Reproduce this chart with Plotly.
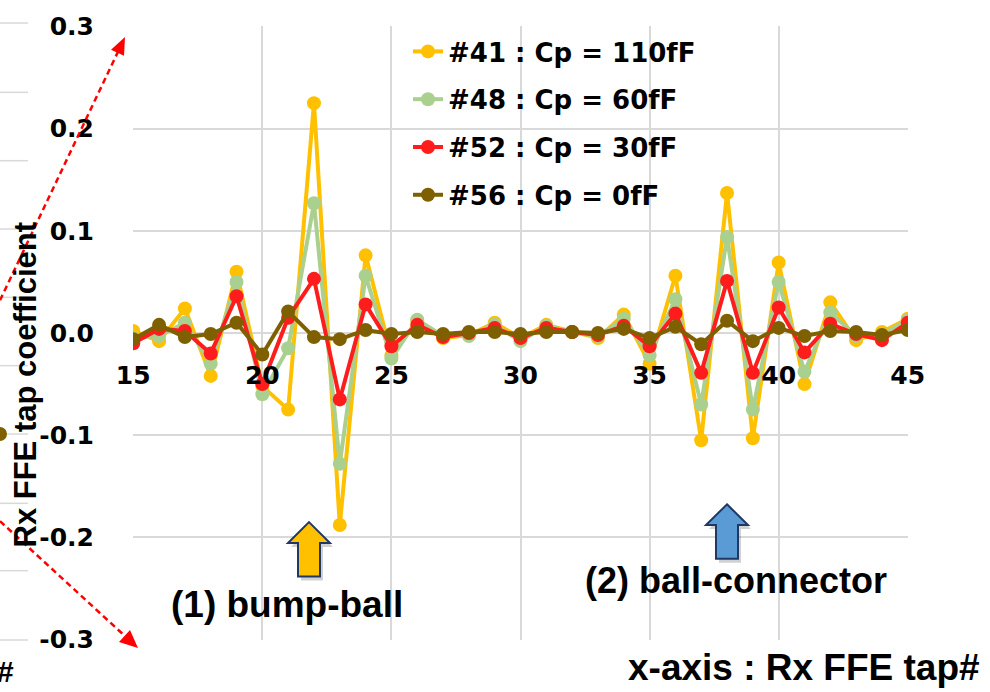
import plotly.graph_objects as go

# ---------------- data ----------------
taps = list(range(15, 46))

series_names = ["#41 : Cp = 110fF", "#48 : Cp = 60fF", "#52 : Cp = 30fF", "#56 : Cp = 0fF"]
series_colors = ["#FFC000", "#A9D08E", "#FF1C1C", "#7F6000"]

cp110 = [0.002, -0.008, 0.024, -0.042, 0.060, -0.052, -0.075, 0.225, -0.188, 0.076,
         -0.022, 0.012, -0.005, -0.002, 0.010, -0.005, 0.008, 0.001, -0.005, 0.018,
         -0.030, 0.056, -0.105, 0.137, -0.103, 0.069, -0.050, 0.030, -0.007, 0.001, 0.014]
cp60 = [-0.005, -0.003, 0.010, -0.030, 0.050, -0.060, -0.015, 0.127, -0.128, 0.056,
        -0.025, 0.013, -0.003, -0.003, 0.008, -0.008, 0.007, 0.001, -0.003, 0.014,
        -0.022, 0.033, -0.070, 0.094, -0.075, 0.050, -0.038, 0.020, -0.003, -0.002, 0.013]
cp30 = [-0.010, 0.004, 0.002, -0.020, 0.036, -0.050, 0.015, 0.053, -0.065, 0.028,
        -0.013, 0.008, -0.004, 0.000, 0.005, -0.005, 0.005, 0.001, -0.002, 0.007,
        -0.013, 0.019, -0.039, 0.051, -0.039, 0.025, -0.019, 0.009, -0.001, -0.007, 0.010]
cp0 = [-0.006, 0.008, -0.004, -0.001, 0.010, -0.021, 0.021, -0.004, -0.006, 0.003,
       -0.001, 0.001, -0.001, 0.001, 0.001, -0.001, 0.001, 0.001, 0.000, 0.004,
       -0.005, 0.006, -0.011, 0.012, -0.008, 0.005, -0.003, 0.002, 0.001, -0.002, 0.003]

series_values = [cp110, cp60, cp30, cp0]

x_ticks = [15, 20, 25, 30, 35, 40, 45]
y_ticks = [-0.3, -0.2, -0.1, 0.0, 0.1, 0.2, 0.3]
y_tick_labels = ["-0.3", "-0.2", "-0.1", "0.0", "0.1", "0.2", "0.3"]

# ---------------- layout geometry ----------------
W, H = 990, 692
L, R, T, B = 133, 82, 20, 52
PW, PH = W - L - R, H - T - B


def px(x):
    return (x - L) / PW


def py(y):
    return 1 - (y - T) / PH


def path_px(points):
    return "M " + " L ".join(f"{px(a):.5f},{py(b):.5f}" for a, b in points) + " Z"


def block_arrow(cx, tip, base, bottom, hw, sw):
    return [(cx, tip), (cx + hw, base), (cx + sw, base), (cx + sw, bottom),
            (cx - sw, bottom), (cx - sw, base), (cx - hw, base)]


fig = go.Figure()
for name, vals, col in zip(series_names, series_values, series_colors):
    fig.add_trace(go.Scatter(
        x=taps, y=vals, name=name, mode="lines+markers",
        line=dict(color=col, width=4),
        marker=dict(color=col, size=14),
        legendgroup=name,
    ))

shapes = []
grid = "#D9D9D9"
# stubs of neighbouring chart on the left
for yy in [17, 87, 156, 225, 294, 363, 432, 502, 570, 640]:
    shapes.append(dict(type="line", xref="paper", yref="paper",
                       x0=px(0), x1=px(28), y0=py(yy), y1=py(yy),
                       line=dict(color=grid, width=1.5), layer="below"))
shapes.append(dict(type="circle", xref="paper", yref="paper",
                   x0=px(-7), x1=px(7), y0=py(439), y1=py(425),
                   fillcolor="#7F6000", line=dict(width=0)))

# red dashed arrows
red = "#FF0000"
shapes.append(dict(type="line", xref="paper", yref="paper",
                   x0=px(0), y0=py(297), x1=px(118), y1=py(46),
                   line=dict(color=red, width=2.5, dash="6px,4px")))
shapes.append(dict(type="path", xref="paper", yref="paper",
                   path=path_px([(125, 31), (124, 50), (111, 44)]),
                   fillcolor=red, line=dict(width=0)))
shapes.append(dict(type="line", xref="paper", yref="paper",
                   x0=px(0), y0=py(520), x1=px(126), y1=py(637),
                   line=dict(color=red, width=2.5, dash="6px,4px")))
shapes.append(dict(type="path", xref="paper", yref="paper",
                   path=path_px([(138, 648), (119, 642), (130, 630)]),
                   fillcolor=red, line=dict(width=0)))

# block arrows with soft shadow
for cx, tip, colr in [(309, 521, "#FFC000"), (727, 503, "#5B9BD5")]:
    pts = block_arrow(cx, tip, tip + 21, tip + 55, 21, 11)
    shadow = [(a + 3, b + 4) for a, b in pts]
    shapes.append(dict(type="path", xref="paper", yref="paper",
                       path=path_px(shadow), fillcolor="rgba(0,0,0,0.18)",
                       line=dict(width=0)))
    shapes.append(dict(type="path", xref="paper", yref="paper",
                       path=path_px(pts), fillcolor=colr,
                       line=dict(color="#1F3864", width=2)))

arial = "Liberation Sans"
annotations = [
    dict(text="<b>(1) bump-ball</b>", x=px(287), y=py(604), xref="paper", yref="paper",
         xanchor="center", yanchor="middle", showarrow=False,
         font=dict(family=arial, size=37, color="black")),
    dict(text="<b>(2) ball-connector</b>", x=px(736), y=py(580), xref="paper", yref="paper",
         xanchor="center", yanchor="middle", showarrow=False,
         font=dict(family=arial, size=36, color="black")),
    dict(text="<b>x-axis : Rx FFE tap#</b>", x=px(982), y=py(668), xref="paper", yref="paper",
         xanchor="right", yanchor="middle", showarrow=False,
         font=dict(family=arial, size=37, color="black")),
    dict(text="<b>Rx FFE tap coefficient</b>", x=px(25), y=py(382), xref="paper", yref="paper",
         xanchor="center", yanchor="middle", textangle=-90, showarrow=False,
         font=dict(family=arial, size=31, color="black")),
    dict(text="<b>#</b>", x=px(16), y=py(672), xref="paper", yref="paper",
         xanchor="right", yanchor="middle", showarrow=False,
         font=dict(family=arial, size=30, color="black")),
]

tickfont = dict(family="DejaVu Sans", size=25, color="black", weight="bold")

fig.update_layout(
    width=W, height=H,
    margin=dict(l=L, r=R, t=T, b=B, pad=0),
    paper_bgcolor="white", plot_bgcolor="white",
    showlegend=True,
    legend=dict(x=px(408), y=py(22), xanchor="left", yanchor="top",
                bgcolor="rgba(0,0,0,0)", tracegroupgap=11,
                font=dict(family="DejaVu Sans", size=26, color="black", weight="bold")),
    xaxis=dict(range=[14.99, 45.01], tickvals=x_ticks, showgrid=True, gridcolor=grid,
               gridwidth=1.5, zeroline=False, showline=False, anchor="free", position=0.5,
               ticks="", tickfont=tickfont, ticklabelstandoff=25),
    yaxis=dict(range=[-0.3005, 0.3005], tickvals=y_ticks, ticktext=y_tick_labels,
               showgrid=True, gridcolor=grid, gridwidth=1.5, zeroline=True,
               zerolinecolor=grid, zerolinewidth=1.5, showline=False, ticks="",
               tickfont=tickfont, ticklabelstandoff=38),
    shapes=shapes,
    annotations=annotations,
)

fig.write_html("out.html")
